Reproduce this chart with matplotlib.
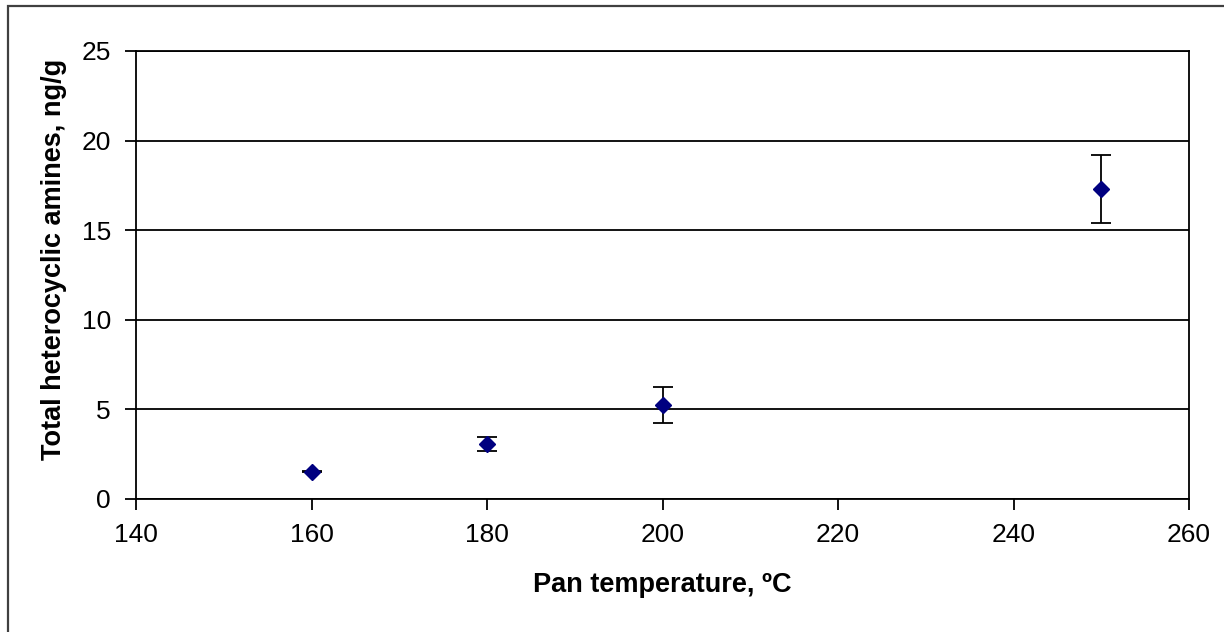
import matplotlib.pyplot as plt
from matplotlib.patches import Rectangle

plt.rcParams['font.family'] = ['Liberation Sans', 'DejaVu Sans']

temperature = [160, 180, 200, 250]
total_hca = [1.52, 3.05, 5.25, 17.3]
hca_err = [0.03, 0.39, 1.0, 1.88]

x_ticks = [140, 160, 180, 200, 220, 240, 260]
y_ticks = [0, 5, 10, 15, 20, 25]

fig = plt.figure(figsize=(12.24, 6.32), dpi=100)
ax = fig.add_axes([136 / 1224, 133 / 632, 1053 / 1224, 448 / 632])

# outer chart frame (cut off at right and bottom)
fig.patches.append(Rectangle((8 / 1224, -0.05), 1.1, 0.05 + 626 / 632,
                             transform=fig.transFigure, fill=False,
                             edgecolor='#404040', linewidth=1.6))

ax.errorbar(temperature, total_hca, yerr=hca_err, fmt='D', color='#000080',
            markersize=8, ecolor='black', elinewidth=1.3, capsize=7,
            capthick=1.3, zorder=3)

ax.set_xlim(140, 260)
ax.set_ylim(0, 25)
ax.set_xticks(x_ticks)
ax.set_yticks(y_ticks)
ax.grid(axis='y', color='black', linewidth=1.3)
for s in ax.spines.values():
    s.set_color('black')
    s.set_linewidth(1.3)
ax.tick_params(length=8, width=1.3, labelsize=19, colors='black')
ax.tick_params(axis='x', pad=9)
ax.tick_params(axis='y', pad=10)

ax.set_xlabel('Pan temperature, ºC', fontsize=19.5, fontweight='bold', labelpad=18)
ax.set_ylabel('Total heterocyclic amines, ng/g', fontsize=19.5, fontweight='bold')
ax.yaxis.set_label_coords(-0.066, 0.535)

plt.savefig('out.png', dpi=100)
plt.close()
